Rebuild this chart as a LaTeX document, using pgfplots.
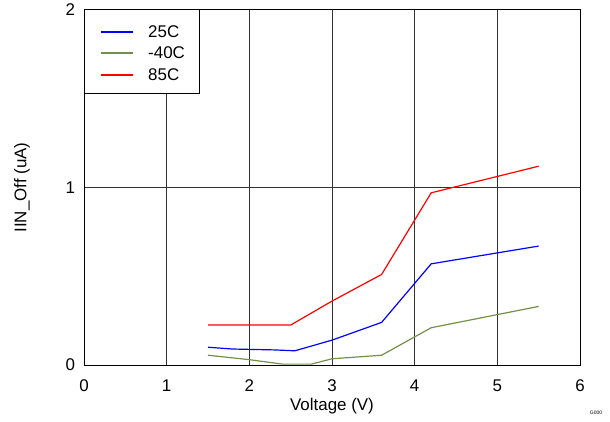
\documentclass[border=0pt]{standalone}
\usepackage{fontspec}
\setmainfont{Liberation Sans}
\usepackage{pgfplots}
\pgfplotsset{compat=1.18}
\definecolor{cblue}{RGB}{0,0,255}
\definecolor{cgreen}{RGB}{112,146,72}
\definecolor{cred}{RGB}{255,0,0}
\definecolor{cgrid}{RGB}{50,50,50}
\begin{document}
\fontsize{17}{20}\selectfont
\begin{tikzpicture}
\useasboundingbox (0,0) rectangle (610bp,422bp);
\begin{axis}[
  at={(84bp,57bp)}, anchor=south west,
  scale only axis, width=496bp, height=355bp,
  xmin=0, xmax=6, ymin=0, ymax=2,
  xtick={0,1,...,6}, ytick={0,1,2},
  major tick length=0pt,
  grid=major,
  major grid style={cgrid, line width=1bp},
  axis line style={black, line width=1bp},
  /pgf/number format/assume math mode=true,
  xticklabel style={yshift=-9bp},
  yticklabel style={xshift=-3bp},
  xlabel={Voltage (V)},
  ylabel={IIN\_Off (uA)},
  xlabel style={at={(axis description cs:0.5,-0.1155)}, anchor=center},
  ylabel style={at={(axis description cs:-0.125,0.5)}, anchor=center},
]
\addplot[cblue, line width=1.2pt] coordinates {(1.5,0.10) (1.8,0.09) (2.3,0.085) (2.55,0.08) (3.0,0.14) (3.6,0.24) (4.2,0.57) (5.5,0.67)};
\addplot[cgreen, line width=1.2pt] coordinates {(1.5,0.055) (2.0,0.03) (2.4,0.005) (2.75,0.005) (3.0,0.035) (3.6,0.055) (4.2,0.21) (5.5,0.33)};
\addplot[cred, line width=1.2pt] coordinates {(1.5,0.225) (2.5,0.225) (3.0,0.36) (3.6,0.51) (4.2,0.97) (5.5,1.12)};
% legend
\draw[black, fill=white, line width=1bp] (axis description cs:0,1) rectangle ++(115bp,-84bp);
\draw[cblue, line width=1.2pt] (axis description cs:0,1) ++(17bp,-22bp) -- ++(32bp,0bp);
\draw[cgreen, line width=1.2pt] (axis description cs:0,1) ++(17bp,-43bp) -- ++(32bp,0bp);
\draw[cred, line width=1.2pt] (axis description cs:0,1) ++(17bp,-65bp) -- ++(32bp,0bp);
\node[anchor=west, inner sep=0pt] at ([shift={(64bp,-22bp)}]axis description cs:0,1) {25C};
\node[anchor=west, inner sep=0pt] at ([shift={(64bp,-43bp)}]axis description cs:0,1) {-40C};
\node[anchor=west, inner sep=0pt] at ([shift={(64bp,-65bp)}]axis description cs:0,1) {85C};
\end{axis}
\node[font=\fontsize{5}{6}\selectfont, inner sep=0pt] at (596bp,9bp) {G000};
\end{tikzpicture}
\end{document}
